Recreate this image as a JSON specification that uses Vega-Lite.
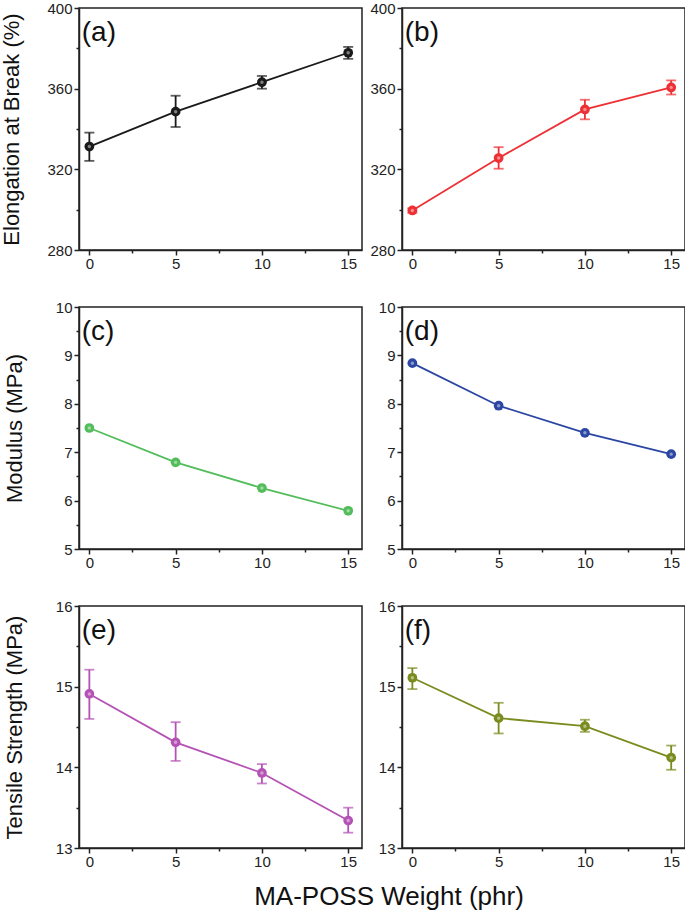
{
  "$schema": "https://vega.github.io/schema/vega-lite/v6.json",
  "padding": {"left": 0, "top": 0, "right": 1, "bottom": 0},
  "background": "white",
  "datasets": {
    "d": [
      {"p": "a", "x": 0, "y": 331.3, "lo": 324.2, "hi": 338.2, "label": "(a)"},
      {"p": "a", "x": 5, "y": 348.6, "lo": 341.0, "hi": 356.5},
      {"p": "a", "x": 10, "y": 363.2, "lo": 360.0, "hi": 366.3},
      {"p": "a", "x": 15, "y": 377.8, "lo": 374.8, "hi": 380.7},
      {"p": "b", "x": 0, "y": 299.6, "lo": 298.5, "hi": 300.7, "label": "(b)"},
      {"p": "b", "x": 5, "y": 325.6, "lo": 320.3, "hi": 331.0},
      {"p": "b", "x": 10, "y": 349.7, "lo": 344.8, "hi": 354.5},
      {"p": "b", "x": 15, "y": 360.6, "lo": 357.1, "hi": 364.1},
      {"p": "c", "x": 0, "y": 7.5, "label": "(c)"},
      {"p": "c", "x": 5, "y": 6.79},
      {"p": "c", "x": 10, "y": 6.26},
      {"p": "c", "x": 15, "y": 5.79},
      {"p": "d", "x": 0, "y": 8.84, "label": "(d)"},
      {"p": "d", "x": 5, "y": 7.96},
      {"p": "d", "x": 10, "y": 7.4},
      {"p": "d", "x": 15, "y": 6.96},
      {"p": "e", "x": 0, "y": 14.91, "lo": 14.6, "hi": 15.21, "label": "(e)"},
      {"p": "e", "x": 5, "y": 14.31, "lo": 14.08, "hi": 14.56},
      {"p": "e", "x": 10, "y": 13.93, "lo": 13.8, "hi": 14.04},
      {"p": "e", "x": 15, "y": 13.34, "lo": 13.19, "hi": 13.5},
      {"p": "f", "x": 0, "y": 15.11, "lo": 14.97, "hi": 15.23, "label": "(f)"},
      {"p": "f", "x": 5, "y": 14.61, "lo": 14.42, "hi": 14.8},
      {"p": "f", "x": 10, "y": 14.51, "lo": 14.44, "hi": 14.59},
      {"p": "f", "x": 15, "y": 14.12, "lo": 13.97, "hi": 14.27}
    ]
  },
  "title": {
    "text": "MA-POSS Weight (phr)",
    "orient": "bottom",
    "anchor": "middle",
    "fontSize": 26,
    "font": "Liberation Sans",
    "fontWeight": "normal",
    "color": "#111111",
    "offset": 14,
    "dx": 46
  },
  "config": {
    "font": "Liberation Sans",
    "view": {"stroke": "#222222", "strokeWidth": 1.5},
    "axis": {
      "labelFont": "Liberation Sans",
      "labelFontSize": 15,
      "labelColor": "#222222",
      "tickColor": "#222222",
      "domainColor": "#222222",
      "domainWidth": 1.5,
      "tickWidth": 1.5,
      "labelPadding": 2,
      "labelOverlap": false,
      "labelFlush": false,
      "grid": false,
      "titleFont": "Liberation Sans",
      "titleFontSize": 22,
      "titleFontWeight": "normal",
      "titleColor": "#111111"
    },
    "axisX": {"labelPadding": 1}
  },
  "columns": 2,
  "align": "each",
  "spacing": {"row": 27, "column": 6},
  "concat": [
    {
      "width": 283, "height": 242,
      "data": {"name": "d"},
      "transform": [{"filter": "datum.p === 'a'"}],
      "encoding": {
        "x": {"field": "x", "type": "quantitative", "scale": {"domain": [-0.6, 15.8], "nice": false, "zero": false},
          "axis": {"title": null, "labelOverlap": false, "values": [0, 2.5, 5, 7.5, 10, 12.5, 15],
            "labelExpr": "datum.value % 5 === 0 ? format(datum.value, 'd') : ''",
            "tickSize": {"condition": {"test": "datum.value % 5 !== 0", "value": 3}, "value": 5}}},
        "y": {"field": "y", "type": "quantitative", "scale": {"domain": [280, 400], "nice": false, "zero": false},
          "axis": {"title": "Elongation at Break (%)", "titlePadding": 23, "values": [280, 300, 320, 340, 360, 380, 400], "labelOverlap": false,
            "labelExpr": "datum.value % 40 === 0 ? format(datum.value, 'd') : ''",
            "tickSize": {"condition": {"test": "datum.value % 40 !== 0", "value": 3}, "value": 5}}}
      },
      "layer": [
        {"mark": {"type": "line", "color": "#1a1a1a", "strokeWidth": 1.8}},
        {"mark": {"type": "errorbar", "color": "#1a1a1a", "thickness": 1.8, "ticks": {"size": 10, "thickness": 1.8}},
          "encoding": {"y": {"field": "lo", "type": "quantitative"}, "y2": {"field": "hi"}}},
        {"mark": {"type": "point", "filled": true, "size": 95, "color": "#1a1a1a", "opacity": 1}},
        {"mark": {"type": "point", "filled": true, "size": 12, "color": "#ffffff", "opacity": 0.45}},
        {"transform": [{"filter": "isValid(datum.label)"}],
          "mark": {"type": "text", "fontSize": 28, "align": "left", "baseline": "alphabetic", "fill": "#111111"},
          "encoding": {"x": {"datum": -0.44}, "y": {"datum": 383.6}, "text": {"field": "label", "type": "nominal"}}}
      ]
    },
    {
      "width": 283, "height": 242,
      "data": {"name": "d"},
      "transform": [{"filter": "datum.p === 'b'"}],
      "encoding": {
        "x": {"field": "x", "type": "quantitative", "scale": {"domain": [-0.6, 15.8], "nice": false, "zero": false},
          "axis": {"title": null, "labelOverlap": false, "values": [0, 2.5, 5, 7.5, 10, 12.5, 15],
            "labelExpr": "datum.value % 5 === 0 ? format(datum.value, 'd') : ''",
            "tickSize": {"condition": {"test": "datum.value % 5 !== 0", "value": 3}, "value": 5}}},
        "y": {"field": "y", "type": "quantitative", "scale": {"domain": [280, 400], "nice": false, "zero": false},
          "axis": {"title": null, "values": [280, 300, 320, 340, 360, 380, 400], "labelOverlap": false,
            "labelExpr": "datum.value % 40 === 0 ? format(datum.value, 'd') : ''",
            "tickSize": {"condition": {"test": "datum.value % 40 !== 0", "value": 3}, "value": 5}}}
      },
      "layer": [
        {"mark": {"type": "line", "color": "#ee3035", "strokeWidth": 1.8}},
        {"mark": {"type": "errorbar", "color": "#ee3035", "thickness": 1.8, "ticks": {"size": 10, "thickness": 1.8}},
          "encoding": {"y": {"field": "lo", "type": "quantitative"}, "y2": {"field": "hi"}}},
        {"mark": {"type": "point", "filled": true, "size": 95, "color": "#ee3035", "opacity": 1}},
        {"mark": {"type": "point", "filled": true, "size": 12, "color": "#ffffff", "opacity": 0.45}},
        {"transform": [{"filter": "isValid(datum.label)"}],
          "mark": {"type": "text", "fontSize": 28, "align": "left", "baseline": "alphabetic", "fill": "#111111"},
          "encoding": {"x": {"datum": -0.44}, "y": {"datum": 383.6}, "text": {"field": "label", "type": "nominal"}}}
      ]
    },
    {
      "width": 283, "height": 242,
      "data": {"name": "d"},
      "transform": [{"filter": "datum.p === 'c'"}],
      "encoding": {
        "x": {"field": "x", "type": "quantitative", "scale": {"domain": [-0.6, 15.8], "nice": false, "zero": false},
          "axis": {"title": null, "labelOverlap": false, "values": [0, 2.5, 5, 7.5, 10, 12.5, 15],
            "labelExpr": "datum.value % 5 === 0 ? format(datum.value, 'd') : ''",
            "tickSize": {"condition": {"test": "datum.value % 5 !== 0", "value": 3}, "value": 5}}},
        "y": {"field": "y", "type": "quantitative", "scale": {"domain": [5, 10], "nice": false, "zero": false},
          "axis": {"title": "Modulus (MPa)", "titlePadding": 29, "values": [5, 5.5, 6, 6.5, 7, 7.5, 8, 8.5, 9, 9.5, 10], "labelOverlap": false,
            "labelExpr": "datum.value % 1 === 0 ? format(datum.value, 'd') : ''",
            "tickSize": {"condition": {"test": "datum.value % 1 !== 0", "value": 3}, "value": 5}}}
      },
      "layer": [
        {"mark": {"type": "line", "color": "#52bd5a", "strokeWidth": 1.8}},
        {"mark": {"type": "point", "filled": true, "size": 95, "color": "#52bd5a", "opacity": 1}},
        {"mark": {"type": "point", "filled": true, "size": 12, "color": "#ffffff", "opacity": 0.45}},
        {"transform": [{"filter": "isValid(datum.label)"}],
          "mark": {"type": "text", "fontSize": 28, "align": "left", "baseline": "alphabetic", "fill": "#111111"},
          "encoding": {"x": {"datum": -0.44}, "y": {"datum": 9.32}, "text": {"field": "label", "type": "nominal"}}}
      ]
    },
    {
      "width": 283, "height": 242,
      "data": {"name": "d"},
      "transform": [{"filter": "datum.p === 'd'"}],
      "encoding": {
        "x": {"field": "x", "type": "quantitative", "scale": {"domain": [-0.6, 15.8], "nice": false, "zero": false},
          "axis": {"title": null, "labelOverlap": false, "values": [0, 2.5, 5, 7.5, 10, 12.5, 15],
            "labelExpr": "datum.value % 5 === 0 ? format(datum.value, 'd') : ''",
            "tickSize": {"condition": {"test": "datum.value % 5 !== 0", "value": 3}, "value": 5}}},
        "y": {"field": "y", "type": "quantitative", "scale": {"domain": [5, 10], "nice": false, "zero": false},
          "axis": {"title": null, "values": [5, 5.5, 6, 6.5, 7, 7.5, 8, 8.5, 9, 9.5, 10], "labelOverlap": false,
            "labelExpr": "datum.value % 1 === 0 ? format(datum.value, 'd') : ''",
            "tickSize": {"condition": {"test": "datum.value % 1 !== 0", "value": 3}, "value": 5}}}
      },
      "layer": [
        {"mark": {"type": "line", "color": "#2b47a3", "strokeWidth": 1.8}},
        {"mark": {"type": "point", "filled": true, "size": 95, "color": "#2b47a3", "opacity": 1}},
        {"mark": {"type": "point", "filled": true, "size": 12, "color": "#ffffff", "opacity": 0.45}},
        {"transform": [{"filter": "isValid(datum.label)"}],
          "mark": {"type": "text", "fontSize": 28, "align": "left", "baseline": "alphabetic", "fill": "#111111"},
          "encoding": {"x": {"datum": -0.44}, "y": {"datum": 9.32}, "text": {"field": "label", "type": "nominal"}}}
      ]
    },
    {
      "width": 283, "height": 242,
      "data": {"name": "d"},
      "transform": [{"filter": "datum.p === 'e'"}],
      "encoding": {
        "x": {"field": "x", "type": "quantitative", "scale": {"domain": [-0.6, 15.8], "nice": false, "zero": false},
          "axis": {"title": null, "labelOverlap": false, "values": [0, 2.5, 5, 7.5, 10, 12.5, 15],
            "labelExpr": "datum.value % 5 === 0 ? format(datum.value, 'd') : ''",
            "tickSize": {"condition": {"test": "datum.value % 5 !== 0", "value": 3}, "value": 5}}},
        "y": {"field": "y", "type": "quantitative", "scale": {"domain": [13, 16], "nice": false, "zero": false},
          "axis": {"title": "Tensile Strength (MPa)", "titlePadding": 29, "values": [13, 13.5, 14, 14.5, 15, 15.5, 16], "labelOverlap": false,
            "labelExpr": "datum.value % 1 === 0 ? format(datum.value, 'd') : ''",
            "tickSize": {"condition": {"test": "datum.value % 1 !== 0", "value": 3}, "value": 5}}}
      },
      "layer": [
        {"mark": {"type": "line", "color": "#b552b5", "strokeWidth": 1.8}},
        {"mark": {"type": "errorbar", "color": "#b552b5", "thickness": 1.8, "ticks": {"size": 10, "thickness": 1.8}},
          "encoding": {"y": {"field": "lo", "type": "quantitative"}, "y2": {"field": "hi"}}},
        {"mark": {"type": "point", "filled": true, "size": 95, "color": "#b552b5", "opacity": 1}},
        {"mark": {"type": "point", "filled": true, "size": 12, "color": "#ffffff", "opacity": 0.45}},
        {"transform": [{"filter": "isValid(datum.label)"}],
          "mark": {"type": "text", "fontSize": 28, "align": "left", "baseline": "alphabetic", "fill": "#111111"},
          "encoding": {"x": {"datum": -0.44}, "y": {"datum": 15.59}, "text": {"field": "label", "type": "nominal"}}}
      ]
    },
    {
      "width": 283, "height": 242,
      "data": {"name": "d"},
      "transform": [{"filter": "datum.p === 'f'"}],
      "encoding": {
        "x": {"field": "x", "type": "quantitative", "scale": {"domain": [-0.6, 15.8], "nice": false, "zero": false},
          "axis": {"title": null, "labelOverlap": false, "values": [0, 2.5, 5, 7.5, 10, 12.5, 15],
            "labelExpr": "datum.value % 5 === 0 ? format(datum.value, 'd') : ''",
            "tickSize": {"condition": {"test": "datum.value % 5 !== 0", "value": 3}, "value": 5}}},
        "y": {"field": "y", "type": "quantitative", "scale": {"domain": [13, 16], "nice": false, "zero": false},
          "axis": {"title": null, "values": [13, 13.5, 14, 14.5, 15, 15.5, 16], "labelOverlap": false,
            "labelExpr": "datum.value % 1 === 0 ? format(datum.value, 'd') : ''",
            "tickSize": {"condition": {"test": "datum.value % 1 !== 0", "value": 3}, "value": 5}}}
      },
      "layer": [
        {"mark": {"type": "line", "color": "#7a8c1f", "strokeWidth": 1.8}},
        {"mark": {"type": "errorbar", "color": "#7a8c1f", "thickness": 1.8, "ticks": {"size": 10, "thickness": 1.8}},
          "encoding": {"y": {"field": "lo", "type": "quantitative"}, "y2": {"field": "hi"}}},
        {"mark": {"type": "point", "filled": true, "size": 95, "color": "#7a8c1f", "opacity": 1}},
        {"mark": {"type": "point", "filled": true, "size": 12, "color": "#ffffff", "opacity": 0.45}},
        {"transform": [{"filter": "isValid(datum.label)"}],
          "mark": {"type": "text", "fontSize": 28, "align": "left", "baseline": "alphabetic", "fill": "#111111"},
          "encoding": {"x": {"datum": -0.44}, "y": {"datum": 15.59}, "text": {"field": "label", "type": "nominal"}}}
      ]
    }
  ]
}
